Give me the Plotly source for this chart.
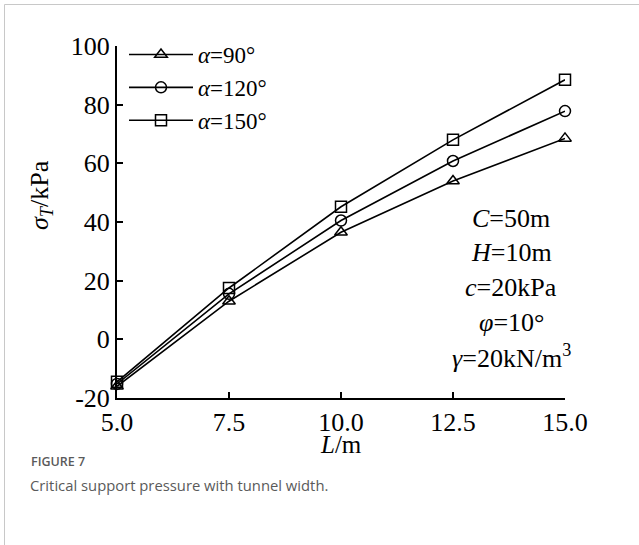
import plotly.graph_objects as go

# Tunnel width L (m) and critical support pressure for each angle
L_values = [5.0, 7.5, 10.0, 12.5, 15.0]
sigma_90 = [-16.0, 13.0, 36.5, 54.0, 68.5]
sigma_120 = [-15.2, 15.5, 40.5, 60.8, 77.8]
sigma_150 = [-14.5, 17.5, 45.2, 68.0, 88.5]

series_names = ["<i>α</i>=90°", "<i>α</i>=120°", "<i>α</i>=150°"]
series_symbols = ["triangle-up-open", "circle-open", "square-open"]
series_values = [sigma_90, sigma_120, sigma_150]

x_ticks = [5.0, 7.5, 10.0, 12.5, 15.0]
x_tick_text = ["5.0", "7.5", "10.0", "12.5", "15.0"]
y_ticks = [-20, 0, 20, 40, 60, 80, 100]
y_tick_text = ["-20", "0", "20", "40", "60", "80", "100"]

param_lines = [
    "<i>C</i>=50m",
    "<i>H</i>=10m",
    "<i>c</i>=20kPa",
    "<i>φ</i>=10°",
    "<i>γ</i>=20kN/m<sup>3</sup>",
]

SERIF = "Liberation Serif, Times New Roman, serif"
SANS = "Open Sans, sans-serif"
W, H = 639, 545
ML, MR, MT, MB = 117, 74, 46, 147
PW, PH = W - ML - MR, H - MT - MB


def px(x):
    return (x - ML) / PW


def py(y):
    return (H - MB - y) / PH


fig = go.Figure()
for name, sym, vals in zip(series_names, series_symbols, series_values):
    fig.add_trace(go.Scatter(
        x=L_values, y=vals, name=name, mode="lines+markers",
        cliponaxis=False,
        line=dict(color="black", width=1.6),
        marker=dict(symbol=sym, size=11, color="black",
                    line=dict(color="black", width=1.5)),
    ))

axis_common = dict(
    showline=True, linecolor="black", linewidth=2,
    ticks="inside", ticklen=6, tickwidth=2, tickcolor="black",
    showgrid=False, zeroline=False, mirror=False,
    tickfont=dict(family=SERIF, size=26, color="black"),
)

fig.update_xaxes(range=[5, 15], tickvals=x_ticks, ticktext=x_tick_text,
                 **axis_common)
fig.update_yaxes(range=[-20, 100], tickvals=y_ticks, ticktext=y_tick_text,
                 **axis_common)

annotations = [
    dict(x=0.5, y=py(444), xref="paper", yref="paper", text="<i>L</i>/m",
         showarrow=False, xanchor="center", yanchor="middle",
         font=dict(family=SERIF, size=25, color="black")),
    dict(x=px(41), y=py(195), xref="paper", yref="paper",
         text="<i>σ<sub>T</sub></i>/kPa", textangle=-90,
         showarrow=False, xanchor="center", yanchor="middle",
         font=dict(family=SERIF, size=26, color="black")),
]
for i, txt in enumerate(param_lines):
    annotations.append(dict(
        x=px(511), y=py(218 + i * 34.7), xref="paper", yref="paper",
        text=txt, showarrow=False, xanchor="center", yanchor="middle",
        font=dict(family=SERIF, size=26, color="black"),
    ))

annotations.append(dict(
    x=px(29), y=py(461), xref="paper", yref="paper", text="FIGURE 7",
    showarrow=False, xanchor="left", yanchor="middle",
    font=dict(family=SANS, size=12.5, color="#5a5a5a", weight=600),
))
annotations.append(dict(
    x=px(28), y=py(485), xref="paper", yref="paper",
    text="Critical support pressure with tunnel width.",
    showarrow=False, xanchor="left", yanchor="middle",
    font=dict(family=SANS, size=14.8, color="#5a5a5a"),
))

shapes = [
    dict(type="line", xref="paper", yref="paper",
         x0=px(4.5), y0=py(545), x1=px(4.5), y1=py(4.5),
         line=dict(color="#c8c8c8", width=1)),
    dict(type="line", xref="paper", yref="paper",
         x0=px(4.5), y0=py(4.5), x1=px(639), y1=py(4.5),
         line=dict(color="#c8c8c8", width=1)),
]

fig.update_layout(
    width=W, height=H,
    margin=dict(l=ML, r=MR, t=MT, b=MB),
    paper_bgcolor="white", plot_bgcolor="white",
    showlegend=True,
    legend=dict(
        x=px(124), y=py(33), xanchor="left", yanchor="top",
        bgcolor="rgba(0,0,0,0)", borderwidth=0,
        font=dict(family=SERIF, size=23, color="black"),
        itemwidth=64, tracegroupgap=0,
    ),
    annotations=annotations,
    shapes=shapes,
)

fig.write_html("out.html")
